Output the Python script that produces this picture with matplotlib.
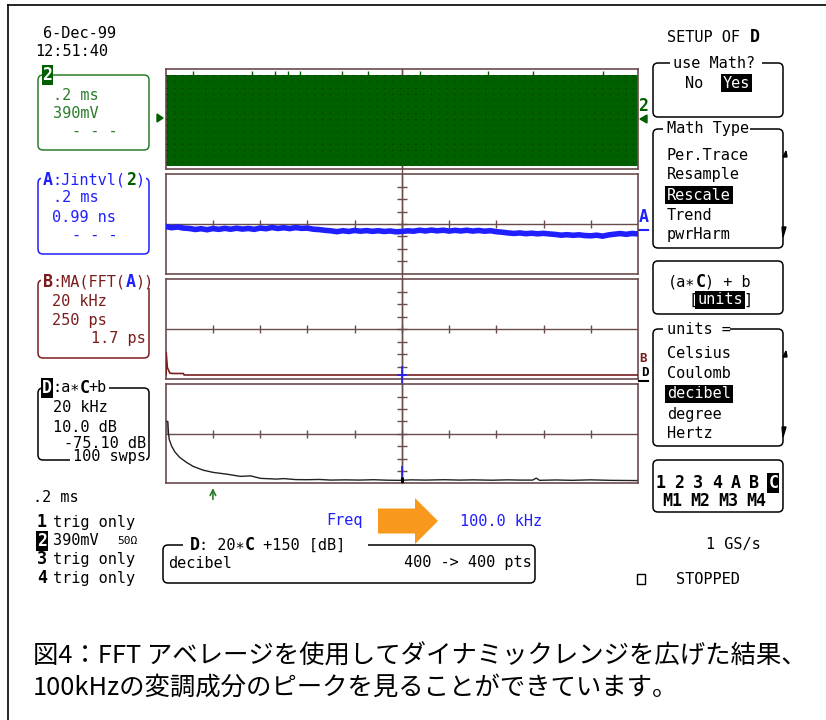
import numpy as np
import matplotlib
matplotlib.use("Agg")
import matplotlib.pyplot as plt
from matplotlib.patches import FancyBboxPatch, Rectangle, Polygon, FancyArrow

# ---------------- data ----------------
# Channel 2 (green): band edges in divisions and small peaks poking above it (time in div)
ch2_top, ch2_bottom = 3.54, -3.78
ch2_peak_t = [0.58, 1.82, 2.31, 2.60, 2.84, 3.74, 4.29, 5.38, 6.83, 7.78, 9.26]
ch2_peak_level = 3.82

# Trace A: Jintvl(2), divisions vs time (0 .. 10 div)
trace_a = [-0.20, -0.30, -0.24, -0.33, -0.36, -0.44, -0.38, -0.46, -0.37, -0.43,
           -0.35, -0.42, -0.34, -0.41, -0.36, -0.43, -0.33, -0.38, -0.28, -0.36,
           -0.30, -0.37, -0.29, -0.35, -0.33, -0.42, -0.45, -0.51, -0.55, -0.62,
           -0.54, -0.60, -0.52, -0.58, -0.53, -0.59, -0.54, -0.60, -0.56, -0.63,
           -0.60, -0.55, -0.58, -0.50, -0.56, -0.49, -0.55, -0.50, -0.57, -0.51,
           -0.56, -0.50, -0.57, -0.52, -0.58, -0.54, -0.62, -0.66, -0.72, -0.76,
           -0.72, -0.78, -0.74, -0.79, -0.75, -0.80, -0.84, -0.90, -0.86, -0.91,
           -0.87, -0.93, -0.95, -0.90, -0.98, -0.88, -0.82, -0.77, -0.83, -0.76,
           -0.80]

# Trace B: MA(FFT(A)), frequency in kHz vs divisions
b_freq = [0.2, 0.2, 0.7, 1.8, 3.5, 7.5, 7.8, 200]
b_level = [-3.68, -1.86, -3.09, -3.54, -3.56, -3.56, -3.68, -3.68]

# Trace D: a*C+b in dB, frequency in kHz vs divisions (10 dB/div)
d_freq = [0, 0.9, 1.2, 1.5, 2.5, 3.9, 6.0, 8.9, 11.7, 15.9,
          20.1, 25.8, 31.6, 36, 40.1, 46.9, 50, 55, 59.6, 65,
          70, 76, 82.2, 88, 94, 99.2, 104, 110, 118, 124.6,
          130, 138, 145, 150, 155.4, 156.9, 158.3, 165, 172, 180,
          188, 199.5]
d_level = [1.0, 1.0, 0.0, -0.46, -0.99, -1.47, -1.92, -2.32, -2.64, -2.94,
           -3.12, -3.26, -3.44, -3.40, -3.60, -3.66, -3.62, -3.70, -3.71, -3.69,
           -3.74, -3.72, -3.74, -3.71, -3.75, -3.76, -3.72, -3.74, -3.71, -3.74,
           -3.72, -3.75, -3.72, -3.74, -3.74, -3.58, -3.76, -3.73, -3.76, -3.72,
           -3.76, -3.78]
cursor_khz = 20
center_khz = 100

math_types = ["Per.Trace", "Resample", "Rescale", "Trend", "pwrHarm"]
unit_items = ["Celsius", "Coulomb", "decibel", "degree", "Hertz"]
chan_row1 = ["1", "2", "3", "4", "A", "B", "C"]
chan_row2 = ["M1", "M2", "M3", "M4"]
trig_rows = [("1", "trig only"), ("2", "390mV"), ("3", "trig only"), ("4", "trig only")]
caption1 = "図4：FFT アベレージを使用してダイナミックレンジを広げた結果、"
caption2 = "100kHzの変調成分のピークを見ることができています。"

# ---------------- styling ----------------
W, H = 826, 720
MONO = "DejaVu Sans Mono"
GREEN = "#2b7d2b"
GFILL = "#006000"
BLUE = "#1f1fff"
DRED = "#7b1c1c"
GRID = "#6b4c4c"
ORANGE = "#f8981d"
CW = 9.2  # character pitch in px

fig = plt.figure(figsize=(W / 100, H / 100), dpi=100)
bg = fig.add_axes([0, 0, 1, 1])
bg.set_xlim(0, W)
bg.set_ylim(H, 0)
bg.axis("off")


def txt(x, y, s, color="black", size=11, weight="normal", ha="left",
        family=MONO, fc=None, pad=0.12, z=4):
    bbox = dict(boxstyle=f"square,pad={pad}", fc=fc, ec="none") if fc else None
    bg.text(x, y, s, color=color, fontsize=size, fontweight=weight, ha=ha,
            va="center", family=family, bbox=bbox, zorder=z)


def rbox(x0, y0, x1, y1, color="black", lw=1.1):
    bg.add_patch(FancyBboxPatch((x0, y0), x1 - x0, y1 - y0,
                                boxstyle="round,pad=0,rounding_size=5",
                                fc="none", ec=color, lw=lw, zorder=1))


def white(x0, y0, x1, y1):
    bg.add_patch(Rectangle((x0, y0), x1 - x0, y1 - y0, fc="white", ec="none", zorder=2))


# outer frame
bg.plot([8, 8], [5, H], color="black", lw=1.2)
bg.plot([8, W], [5, 5], color="black", lw=1.2)

# ---------------- header, left column ----------------
txt(43, 33, "6-Dec-99")
txt(35, 52, "12:51:40")

# channel 2 box
rbox(38, 75, 149, 150, GREEN)
txt(47.5, 75, "2", color="white", size=12, weight="bold", ha="center", fc=GFILL, pad=0.05)
txt(53, 95, ".2 ms", GREEN)
txt(53, 113, "390mV", GREEN)
txt(72, 132, "- - -", GREEN)
bg.add_patch(Polygon([[157, 114], [163, 118], [157, 122]], closed=True, fc=GFILL, ec=GFILL))

# A box
rbox(38, 178, 149, 254, BLUE)
white(41, 172, 43 + 11 * CW + 2, 186)
txt(43, 180, "A", BLUE, size=12, weight="bold")
txt(43 + CW, 180, ":Jintvl(", BLUE)
txt(43 + 9 * CW, 180, "2", GFILL, size=12, weight="bold")
txt(43 + 10 * CW, 180, ")", BLUE)
txt(53, 198, ".2 ms", BLUE)
txt(52, 217, "0.99 ns", BLUE)
txt(72, 236, "- - -", BLUE)

# B box
rbox(38, 280, 149, 358, DRED)
white(41, 274, 43 + 12 * CW + 2, 288)
txt(43, 282, "B", DRED, size=12, weight="bold")
txt(43 + CW, 282, ":MA(FFT(", DRED)
txt(43 + 9 * CW, 282, "A", BLUE, size=12, weight="bold")
txt(43 + 10 * CW, 282, "))", DRED)
txt(52, 302, "20 kHz", DRED)
txt(52, 320, "250 ps", DRED)
txt(146, 339, "1.7 ps", DRED, ha="right")

# D box
rbox(38, 388, 149, 460, "black")
white(41, 382, 43 + 7 * CW + 2, 394)
txt(47, 388, "D", "white", size=12, weight="bold", ha="center", fc="black", pad=0.05)
txt(52, 388, ":a∗", "black")
txt(52 + 3 * CW, 388, "C", "black", size=12, weight="bold")
txt(52 + 4 * CW, 388, "+b", "black")
txt(53, 407, "20 kHz")
txt(53, 427, "10.0 dB")
txt(146, 443, "-75.10 dB", ha="right")
white(70, 452, 146, 464)
txt(146, 457, "100 swps", ha="right")

txt(33, 497, ".2 ms")
for i, (ch, label) in enumerate(trig_rows):
    y = 522 + i * 18.7
    if ch == "2":
        txt(42, y, ch, "white", size=12, weight="bold", ha="center", fc="black", pad=0.05)
        txt(53, y, label)
        txt(117, y, "50Ω", size=8)
    else:
        txt(42, y, ch, size=12, weight="bold", ha="center")
        txt(53, y, label)

# ---------------- grid panels ----------------
X0, X1 = 165.7, 638.0
panels = [(69.0, 168.7), (174.3, 273.7), (279.0, 379.0), (384.3, 483.3)]


def mkax(top, bot, xmax):
    ax = fig.add_axes([X0 / W, 1 - bot / H, (X1 - X0) / W, (bot - top) / H])
    ax.set_xlim(0, xmax)
    ax.set_ylim(-4, 4)
    ax.set_xticks([])
    ax.set_yticks([])
    ax.patch.set_alpha(0)
    for s in ax.spines.values():
        s.set_color(GRID)
        s.set_linewidth(1.2)
    return ax


def crosshair(ax, xmax):
    ax.axhline(0, color=GRID, lw=1.0, zorder=1)
    ax.axvline(xmax / 2, color=GRID, lw=1.0, zorder=1)
    ax.vlines(np.arange(1, 10) * xmax / 10, -0.32, 0.32, color=GRID, lw=1.0, zorder=1)
    ax.hlines(np.arange(-3, 4), xmax / 2 - 0.0106 * xmax, xmax / 2 + 0.0106 * xmax,
              color=GRID, lw=1.0, zorder=1)


# vertical centre line running through the gaps between panels
xc = (X0 + X1) / 2
bg.plot([xc, xc], [panels[0][0], panels[3][1]], color=GRID, lw=1.0, zorder=1)

ax1 = mkax(*panels[0], 10)
ax1.axvline(5, color=GRID, lw=1.0, zorder=0)
ax1.fill_between([0, 10], ch2_bottom, ch2_top, color=GFILL, lw=0, zorder=2)
ax1.vlines(ch2_peak_t, ch2_top, ch2_peak_level, color=GFILL, lw=1.0, zorder=2)
for yy in np.arange(-3.5, 3.51, 0.5):
    ax1.axhline(yy, color="#003600", lw=0.8, ls=(0, (1, 6)), zorder=3)

ax2 = mkax(*panels[1], 10)
crosshair(ax2, 10)
ta = np.linspace(0, 10, len(trace_a))
ax2.plot(ta, trace_a, color=BLUE, lw=4.0, zorder=3, solid_joinstyle="miter")
ax2.plot(ta, trace_a, color=BLUE, lw=1.0, zorder=3, drawstyle="steps-mid")

ax3 = mkax(*panels[2], 200)
crosshair(ax3, 200)
ax3.plot(b_freq, b_level, color=DRED, lw=1.2, zorder=3)
ax3.vlines([center_khz], -2.95, -4.5, color=BLUE, lw=1.2, zorder=4, clip_on=False)
ax3.hlines([-3.68], center_khz - 2, center_khz + 2, color=BLUE, lw=1.2, zorder=4)

ax4 = mkax(*panels[3], 200)
crosshair(ax4, 200)
ax4.fill_between(d_freq[:2], 0, d_level[:2], color="#9a9a9a", lw=0, zorder=2)
ax4.plot(d_freq, d_level, color="#222222", lw=1.0, zorder=3)
ax4.vlines([center_khz], -2.6, -4, color=BLUE, lw=1.2, zorder=4)
ax4.vlines([center_khz], -3.5, -4, color="black", lw=2.2, zorder=5)
ax4.annotate("", xy=(cursor_khz, -0.02), xycoords=ax4.get_xaxis_transform(),
             xytext=(cursor_khz, -0.19), textcoords=ax4.get_xaxis_transform(),
             arrowprops=dict(arrowstyle="->", color=GREEN, lw=1.2, mutation_scale=10))

# right-edge trace labels
txt(643.5, 106, "2", GFILL, size=12, weight="bold", ha="center")
bg.add_patch(Polygon([[640, 119], [647, 115], [647, 123]], closed=True, fc=GFILL, ec=GFILL))
txt(643.5, 217, "A", BLUE, size=12, weight="bold", ha="center")
bg.plot([639, 648], [230, 230], color=BLUE, lw=1.5)
txt(643.5, 358, "B", DRED, size=9, weight="bold", ha="center")
txt(645, 372, "D", "black", size=9, weight="bold", ha="center")
bg.plot([639, 648], [381, 381], color="black", lw=1.5)

# ---------------- bottom area ----------------
txt(326, 521, "Freq", BLUE)
bg.add_patch(FancyArrow(378, 521, 60, 0, width=25, head_width=46, head_length=23,
                        length_includes_head=True, fc=ORANGE, ec="none", zorder=3))
txt(460, 521, "100.0 kHz", BLUE)

rbox(163, 545, 535, 583, "black")
white(183, 538, 368, 552)
txt(190, 545, "D", size=12, weight="bold")
txt(190 + CW, 545, ": 20∗")
txt(190 + 6 * CW, 545, "C", size=12, weight="bold")
txt(190 + 7 * CW, 545, " +150 [dB]")
txt(168, 563, "decibel")
txt(532, 563, "400 -> 400 pts", ha="right")

txt(706, 544, "1 GS/s")
bg.add_patch(Rectangle((637, 574), 8, 10, fc="none", ec="black", lw=1.0))
txt(676, 580, "STOPPED")

# ---------------- right menu ----------------
txt(667, 37, "SETUP OF")
txt(667 + 9 * CW, 37, "D", size=12, weight="bold")

rbox(653, 63, 783, 117)
white(670, 56, 762, 70)
txt(673, 63, "use Math?")
txt(685, 83, "No")
txt(723, 83, "Yes", "white", fc="black")

rbox(653, 129, 783, 248)
white(663, 122, 750, 136)
txt(667, 129, "Math Type")
for i, item in enumerate(math_types):
    y = 155 + 20 * i
    if item == "Rescale":
        txt(667, y, item, "white", fc="black")
    else:
        txt(667, y, item)


def scroll_marks(ytop, ybot):
    bg.add_patch(Polygon([[783, ytop + 6], [786, ytop], [787, ytop + 6]], closed=True, fc="black", ec="black"))
    bg.add_patch(Polygon([[782, ybot - 5], [786, ybot - 5], [783, ybot + 5]], closed=True, fc="black", ec="black"))


scroll_marks(151, 232)

rbox(653, 261, 783, 314)
txt(668, 282, "(a∗")
txt(668 + 3 * CW, 282, "C", size=12, weight="bold")
txt(668 + 4 * CW, 282, ") + b")
txt(688, 300, "[")
txt(688 + CW, 300, "units", "white", fc="black")
txt(688 + 6 * CW, 300, "]")

rbox(653, 329, 783, 446)
white(663, 322, 730, 336)
txt(667, 329, "units =")
for i, item in enumerate(unit_items):
    y = 354 + 20 * i
    if item == "decibel":
        txt(667, y, item, "white", fc="black")
    else:
        txt(667, y, item)
scroll_marks(351, 432)

rbox(653, 460, 783, 512)
for i, ch in enumerate(chan_row1):
    xx = 660.5 + 18.8 * i
    if ch == "C":
        txt(xx, 483, ch, "white", size=12, weight="bold", ha="center", fc="black", pad=0.05)
    else:
        txt(xx, 483, ch, size=12, weight="bold", ha="center")
for i, ch in enumerate(chan_row2):
    txt(672.5 + 28 * i, 501, ch, size=12, weight="bold", ha="center")

# ---------------- caption ----------------
CJK = ["Noto Sans CJK JP", "DejaVu Sans"]
txt(33, 657, caption1, size=18.3, family=CJK)
txt(33, 688, caption2, size=18.3, family=CJK)

fig.savefig("out.png", dpi=100)
